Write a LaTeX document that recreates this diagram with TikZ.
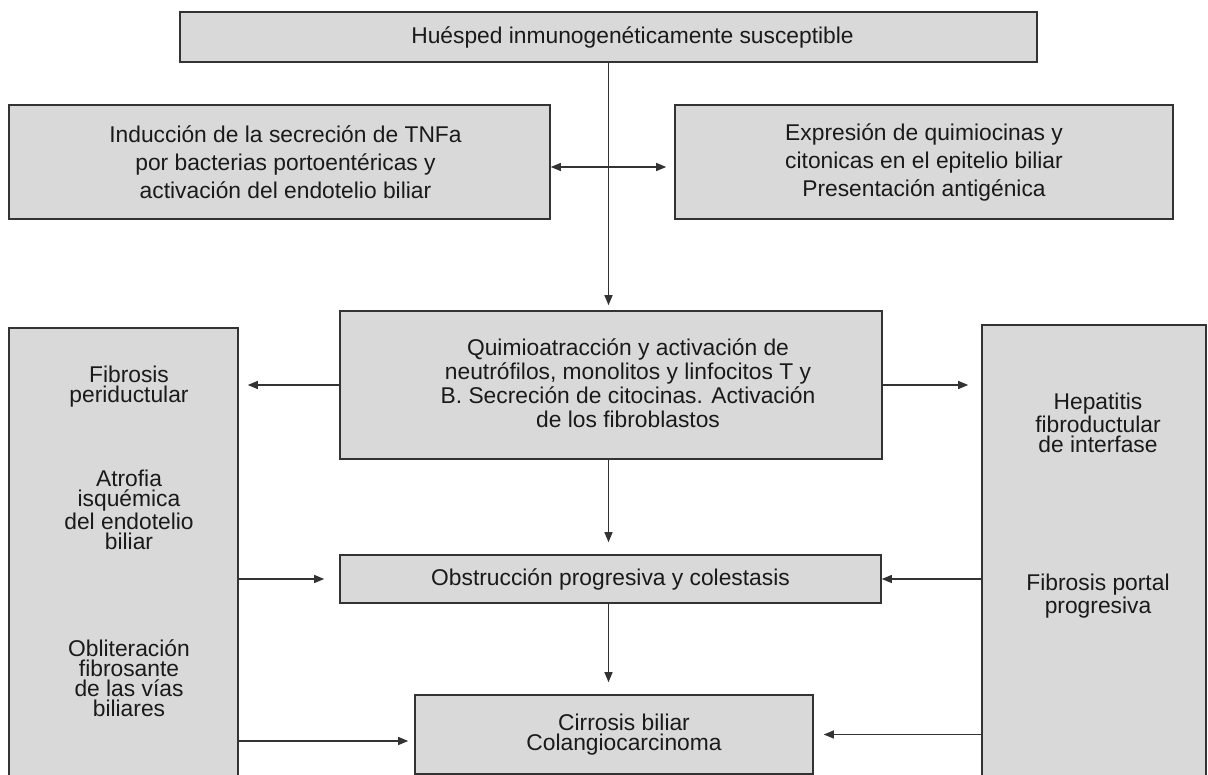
\documentclass[tikz,border=0pt]{standalone}
\usepackage{fontspec}
\setmainfont{Liberation Sans}
\usetikzlibrary{arrows.meta,positioning}
\definecolor{boxfill}{HTML}{D9D9D9}
\definecolor{boxline}{HTML}{333333}
\definecolor{inktext}{HTML}{1A1A1A}

\begin{document}
\begin{tikzpicture}[x=0.5pt,y=-0.5pt,
    box/.style={draw=boxline,fill=boxfill,line width=0.8pt,inner sep=0pt},
    lbl/.style={align=center,inner sep=0pt,text=inktext},
    txt/.style={align=center,inner sep=0pt,text=inktext,font=\fontsize{11.4}{10}\selectfont},
    arr/.style={-{Triangle[length=5pt,width=4pt]},line width=0.6pt,draw=boxline},
    dbl/.style={{Triangle[length=5pt,width=4pt]}-{Triangle[length=5pt,width=4pt]},line width=0.6pt,draw=boxline}]
  \useasboundingbox (0,0) rectangle (1208,775);
  \clip (0,0) rectangle (1208,775);
  % boxes
  \node[box,minimum width=428.5pt,minimum height=25pt,
    label={[lbl,xshift=12pt,font=\fontsize{11.4}{14}\selectfont]center:Huésped inmunogenéticamente susceptible}] (host) at (608.5,37) {};
  \node[box,minimum width=270.5pt,minimum height=57pt,
    label={[lbl,xshift=3pt,font=\fontsize{11.4}{14}\selectfont]center:Inducción de la secreción de TNFa\\por bacterias portoentéricas y\\activación del endotelio biliar}] (induc) at (279.5,162) {};
  \node[box,minimum width=249pt,minimum height=57pt,
    label={[lbl,font=\fontsize{11.4}{14}\selectfont]center:Expresión de quimiocinas y\\citonicas en el epitelio biliar\\Presentación antigénica}] (expr) at (924,162) {};
  \node[box,minimum width=271pt,minimum height=74pt,
    label={[lbl,xshift=8.5pt,yshift=1pt,font=\fontsize{11.4}{12}\selectfont]center:Quimioatracción y activación de\\neutrófilos, monolitos y linfocitos T y\\B. Secreción de citocinas. Activación\\de los fibroblastos}] (quimio) at (611,385) {};
  \node[box,minimum width=114.5pt,minimum height=231pt] (leftcol) at (123.5,559) {};
  \node[box,minimum width=112pt,minimum height=232.5pt] (rightcol) at (1094,557.5) {};
  \node[box,minimum width=270.5pt,minimum height=24pt,
    label={[lbl,font=\fontsize{11.4}{12}\selectfont]center:Obstrucción progresiva y colestasis}] (obstr) at (610.5,579) {};
  \node[box,minimum width=199pt,minimum height=39.5pt,
    label={[lbl,xshift=5pt,font=\fontsize{11.4}{10}\selectfont]center:Cirrosis biliar\\Colangiocarcinoma}] (cirr) at (614,734.5) {};
  % column texts
  \node[txt] (fibperi) at (129,387) {Fibrosis\\periductular};
  \node[txt] (atrofia) at (129,510) {Atrofia\\isquémica\\del endotelio\\biliar};
  \node[txt] (oblit) at (129,678) {Obliteración\\fibrosante\\de las vías\\biliares};
  \node[txt] (hepat) at (1098,423) {Hepatitis\\fibroductular\\de interfase};
  \node[txt] (fibport) at (1098,596) {Fibrosis portal\\progresiva};
  % connectors
  \draw[arr,shorten >=2.5pt] (host.south) -- (host.south |- quimio.north);
  \draw[dbl,shorten >=4pt] ([yshift=-2.5pt]induc.east) -- ([yshift=-2.5pt]expr.west);
  \draw[arr,shorten >=4.5pt] (quimio.west) -- (quimio.west -| leftcol.east);
  \draw[arr,shorten >=6.5pt] (quimio.east) -- (quimio.east -| rightcol.west);
  \draw[arr,shorten >=6pt] (host.south |- quimio.south) -- (host.south |- obstr.north);
  \draw[arr,shorten >=6pt] (host.south |- obstr.south) -- (host.south |- cirr.north);
  \draw[arr,shorten >=7.5pt] (leftcol.east |- obstr.west) -- (obstr.west);
  \draw[arr] (rightcol.west |- obstr.east) -- (obstr.east);
  \draw[arr,shorten >=3pt] (leftcol.east |- cirr.west) ++(0,6.5) -- ([yshift=-3.25pt]cirr.west);
  \draw[arr,shorten >=5pt] (rightcol.west |- cirr.east) -- (cirr.east);
\end{tikzpicture}
\end{document}
